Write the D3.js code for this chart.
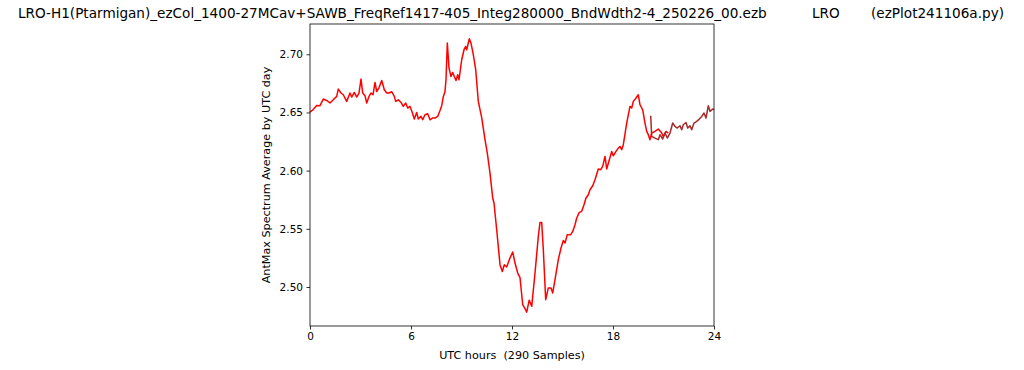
<!DOCTYPE html>
<html>
<head>
<meta charset="utf-8">
<script src="https://cdn.jsdelivr.net/npm/d3@7"></script>
<style>
  body { margin: 0; background: #fff; }
  svg { font-family: "DejaVu Sans", sans-serif; }
</style>
</head>
<body>
<div id="chart"></div>
<script>
// red series: UTC hours / AntMax average
const redHours = [0.00, 0.137, 0.398, 0.594, 0.790, 0.992, 1.188, 1.384, 1.586, 1.681, 1.842, 1.978, 2.180, 2.376, 2.477, 2.632, 2.774, 2.911, 3.030, 3.131,
  3.267, 3.368, 3.505, 3.624, 3.743, 3.862, 3.962, 4.099, 4.259, 4.414, 4.557, 4.693, 4.854, 5.008, 5.091, 5.246, 5.406, 5.543, 5.685, 5.804,
  5.941, 6.077, 6.196, 6.339, 6.434, 6.594, 6.695, 6.832, 6.992, 7.129, 7.266, 7.426, 7.586, 7.723, 7.824, 7.919, 8.020, 8.079, 8.157, 8.258,
  8.376, 8.477, 8.573, 8.673, 8.774, 8.852, 9.012, 9.149, 9.250, 9.309, 9.464, 9.564, 9.701, 9.844, 9.998, 10.200, 10.396, 10.533, 10.693, 10.854,
  10.931, 11.091, 11.287, 11.424, 11.543, 11.686, 11.840, 12.042, 12.179, 12.339, 12.476, 12.636, 12.773, 12.874, 13.022, 13.171, 13.367, 13.563, 13.664, 13.765,
  13.860, 14.002, 14.157, 14.317, 14.418, 14.555, 14.751, 14.911, 15.048, 15.149, 15.286, 15.488, 15.607, 15.743, 15.844, 15.998, 16.141, 16.278, 16.396, 16.533,
  16.634, 16.794, 16.931, 17.127, 17.270, 17.388, 17.525, 17.626, 17.781, 17.923, 18.018, 18.178, 18.315, 18.416, 18.517, 18.613, 18.814, 19.010, 19.111, 19.207,
  19.367, 19.503, 19.604, 19.765, 19.901, 20.002, 20.097, 20.198, 20.299, 20.495, 20.691, 20.893, 20.988, 21.149, 21.285];
const redValues = [2.6503, 2.6517, 2.6560, 2.6558, 2.6615, 2.6603, 2.6581, 2.6609, 2.6638, 2.6701, 2.6667, 2.6652, 2.6595, 2.6667, 2.6632, 2.6672, 2.6632, 2.6667, 2.6787, 2.6667,
  2.6644, 2.6581, 2.6638, 2.6667, 2.6652, 2.6758, 2.6680, 2.6712, 2.6775, 2.6695, 2.6667, 2.6667, 2.6678, 2.6638, 2.6595, 2.6609, 2.6586, 2.6552, 2.6581, 2.6538,
  2.6552, 2.6500, 2.6443, 2.6500, 2.6443, 2.6466, 2.6437, 2.6480, 2.6489, 2.6437, 2.6452, 2.6452, 2.6466, 2.6517, 2.6558, 2.6635, 2.6680, 2.6781, 2.7096, 2.6881,
  2.6809, 2.6844, 2.6809, 2.6775, 2.6824, 2.6781, 2.6953, 2.7039, 2.7067, 2.7039, 2.7133, 2.7096, 2.6996, 2.6867, 2.6595, 2.6455, 2.6266, 2.6151, 2.5979, 2.5765,
  2.5722, 2.5492, 2.5192, 2.5134, 2.5192, 2.5172, 2.5235, 2.5301, 2.5206, 2.5120, 2.5080, 2.4848, 2.4814, 2.4784, 2.4887, 2.4834, 2.5120, 2.5435, 2.5555, 2.5555,
  2.5321, 2.4891, 2.4992, 2.4992, 2.4949, 2.5063, 2.5235, 2.5335, 2.5400, 2.5378, 2.5450, 2.5450, 2.5478, 2.5535, 2.5593, 2.5641, 2.5650, 2.5707, 2.5765, 2.5793,
  2.5836, 2.5870, 2.5922, 2.6014, 2.6008, 2.6036, 2.6122, 2.6014, 2.6094, 2.6165, 2.6128, 2.6165, 2.6194, 2.6208, 2.6180, 2.6223, 2.6409, 2.6552, 2.6538, 2.6595,
  2.6624, 2.6652, 2.6566, 2.6523, 2.6409, 2.6337, 2.6309, 2.6266, 2.6323, 2.6337, 2.6357, 2.6323, 2.6294, 2.6337, 2.6323];

// brown series (last part of the day)
const brownHours = [20.240, 20.299, 20.495, 20.691, 20.792, 20.952, 21.089, 21.226, 21.386, 21.547, 21.683, 21.820, 21.980, 22.081, 22.176, 22.337, 22.438, 22.574, 22.675, 22.812,
  22.973, 23.127, 23.270, 23.406, 23.525, 23.662, 23.763, 23.923, 24.0];
const brownValues = [2.6472, 2.6294, 2.6280, 2.6266, 2.6309, 2.6272, 2.6323, 2.6280, 2.6323, 2.6409, 2.6380, 2.6366, 2.6386, 2.6351, 2.6394, 2.6414, 2.6366, 2.6386, 2.6351, 2.6409,
  2.6423, 2.6443, 2.6466, 2.6495, 2.6452, 2.6558, 2.6509, 2.6530, 2.6523];

const xTicks = [0, 6, 12, 18, 24];
const yTicks = [2.50, 2.55, 2.60, 2.65, 2.70];

// title pieces (one line in the original, spaced apart)
const titleParts = [
  {text: "LRO-H1(Ptarmigan)_ezCol_1400-27MCav+SAWB_FreqRef1417-405_Integ280000_BndWdth2-4_250226_00.ezb", x: 18, anchor: 'start'},
  {text: "LRO", x: 812, anchor: 'start'},
  {text: "(ezPlot241106a.py)", x: 1004, anchor: 'end'}
];
const xLabel = "UTC hours  (290 Samples)";
const yLabel = "AntMax Spectrum Average by UTC day";

const W = 1024, H = 370;
const margin = {top: 24, right: 310, bottom: 44, left: 310};
const width = W - margin.left - margin.right;
const height = H - margin.top - margin.bottom;

const svg = d3.select('#chart').append('svg')
  .attr('width', W)
  .attr('height', H);

svg.selectAll('text.title')
  .data(titleParts)
  .enter()
  .append('text')
  .attr('class', 'title')
  .attr('x', (d) => d.x)
  .attr('y', 18)
  .attr('font-size', 13.6)
  .attr('text-anchor', (d) => d.anchor)
  .text((d) => d.text);

const g = svg.append('g').attr('transform', `translate(${margin.left},${margin.top})`);

const x = d3.scaleLinear().domain([0, 24]).range([0, width]);
const y = d3.scaleLinear().domain([2.4665, 2.726]).range([height, 0]);

const xAxis = d3.axisBottom(x).tickValues(xTicks).tickFormat(d3.format('d')).tickSize(3.5).tickPadding(3.5);
const yAxis = d3.axisLeft(y).tickValues(yTicks).tickFormat(d3.format('.2f')).tickSize(3.5).tickPadding(3.5);

const line = d3.line()
  .x((d) => x(d[0]))
  .y((d) => y(d[1]));

g.append('path')
  .datum(redHours.map((h, i) => [h, redValues[i]]))
  .attr('d', line)
  .attr('fill', 'none')
  .attr('stroke', '#ff0000')
  .attr('stroke-width', 1.5)
  .attr('stroke-linejoin', 'round');

g.append('path')
  .datum(brownHours.map((h, i) => [h, brownValues[i]]))
  .attr('d', line)
  .attr('fill', 'none')
  .attr('stroke', '#a52a2a')
  .attr('stroke-width', 1.5)
  .attr('stroke-linejoin', 'round');

// frame
g.append('rect')
  .attr('width', width)
  .attr('height', height)
  .attr('fill', 'none')
  .attr('stroke', '#000')
  .attr('stroke-width', 0.8);

const gx = g.append('g').attr('transform', `translate(0,${height})`).call(xAxis);
const gy = g.append('g').call(yAxis);
[gx, gy].forEach((a) => {
  a.select('.domain').remove();
  a.selectAll('line').attr('stroke', '#000').attr('stroke-width', 0.8);
  a.selectAll('text').attr('font-size', 10.5).attr('fill', '#000').attr('font-family', '"DejaVu Sans", sans-serif');
});

g.append('text')
  .attr('x', width / 2)
  .attr('y', height + 33)
  .attr('text-anchor', 'middle')
  .attr('font-size', 11.2)
  .style('white-space', 'pre')
  .text(xLabel);

g.append('text')
  .attr('transform', `translate(${-40},${height / 2}) rotate(-90)`)
  .attr('text-anchor', 'middle')
  .attr('font-size', 11.2)
  .text(yLabel);
</script>
</body>
</html>
